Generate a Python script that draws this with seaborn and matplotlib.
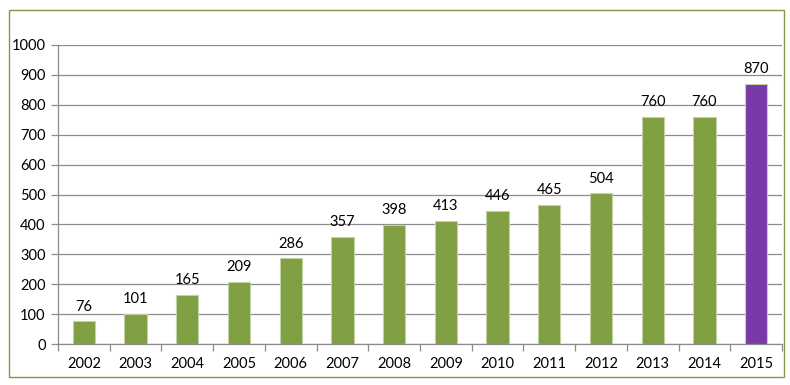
import numpy as np
import pandas as pd
import seaborn as sns
import matplotlib.pyplot as plt
from matplotlib.patches import Rectangle

years = ["2002", "2003", "2004", "2005", "2006", "2007", "2008",
         "2009", "2010", "2011", "2012", "2013", "2014", "2015"]
counts = [76, 101, 165, 209, 286, 357, 398, 413, 446, 465, 504, 760, 760, 870]

green = "#809E42"
purple = "#7A39A8"
bar_colors = [green] * 13 + [purple]

sns.set_theme(style="white")
plt.rcParams['font.family'] = ['Lato', 'DejaVu Sans']

df = pd.DataFrame({"year": years, "count": counts})

fig = plt.figure(figsize=(7.9, 3.85), dpi=100)
ax = fig.add_axes([58 / 790, 1 - 344 / 385, 724 / 790, 299 / 385])

sns.barplot(data=df, x="year", y="count", hue="year", palette=bar_colors,
            saturation=1, legend=False, width=0.43, ax=ax, zorder=3,
            edgecolor="#C4D3A6", linewidth=0.8)

for i, v in enumerate(counts):
    ax.text(i, v + 26, str(v), ha="center", va="bottom", fontsize=10.5, color="black")

ax.set_ylim(0, 1000)
ax.set_yticks(np.arange(0, 1001, 100))
ax.set_xlim(-0.5, len(years) - 0.5)
ax.set_xlabel("")
ax.set_ylabel("")
ax.grid(axis="y", color="#8C8C8C", linewidth=0.9, zorder=0)
ax.set_axisbelow(True)

for s in ["top", "right"]:
    ax.spines[s].set_visible(False)
for s in ["left", "bottom"]:
    ax.spines[s].set_color("#8C8C8C")
    ax.spines[s].set_linewidth(0.9)

ax.tick_params(axis="y", which="major", length=5, width=0.9, color="#8C8C8C",
               labelsize=10.5, pad=4, left=True, labelcolor="black")
ax.tick_params(axis="x", which="major", length=0, labelsize=10.5, pad=9, labelcolor="black")
ax.set_xticks(np.arange(len(years) + 1) - 0.5, minor=True)
ax.tick_params(axis="x", which="minor", length=5, width=0.9, color="#8C8C8C", bottom=True)

# outer chart border
fig.patches.append(Rectangle((9 / 790, 1 - 377 / 385), 775 / 790, 367 / 385,
                             transform=fig.transFigure, fill=False,
                             edgecolor="#7F9A48", linewidth=1.0))

fig.savefig("out.png", dpi=100)
